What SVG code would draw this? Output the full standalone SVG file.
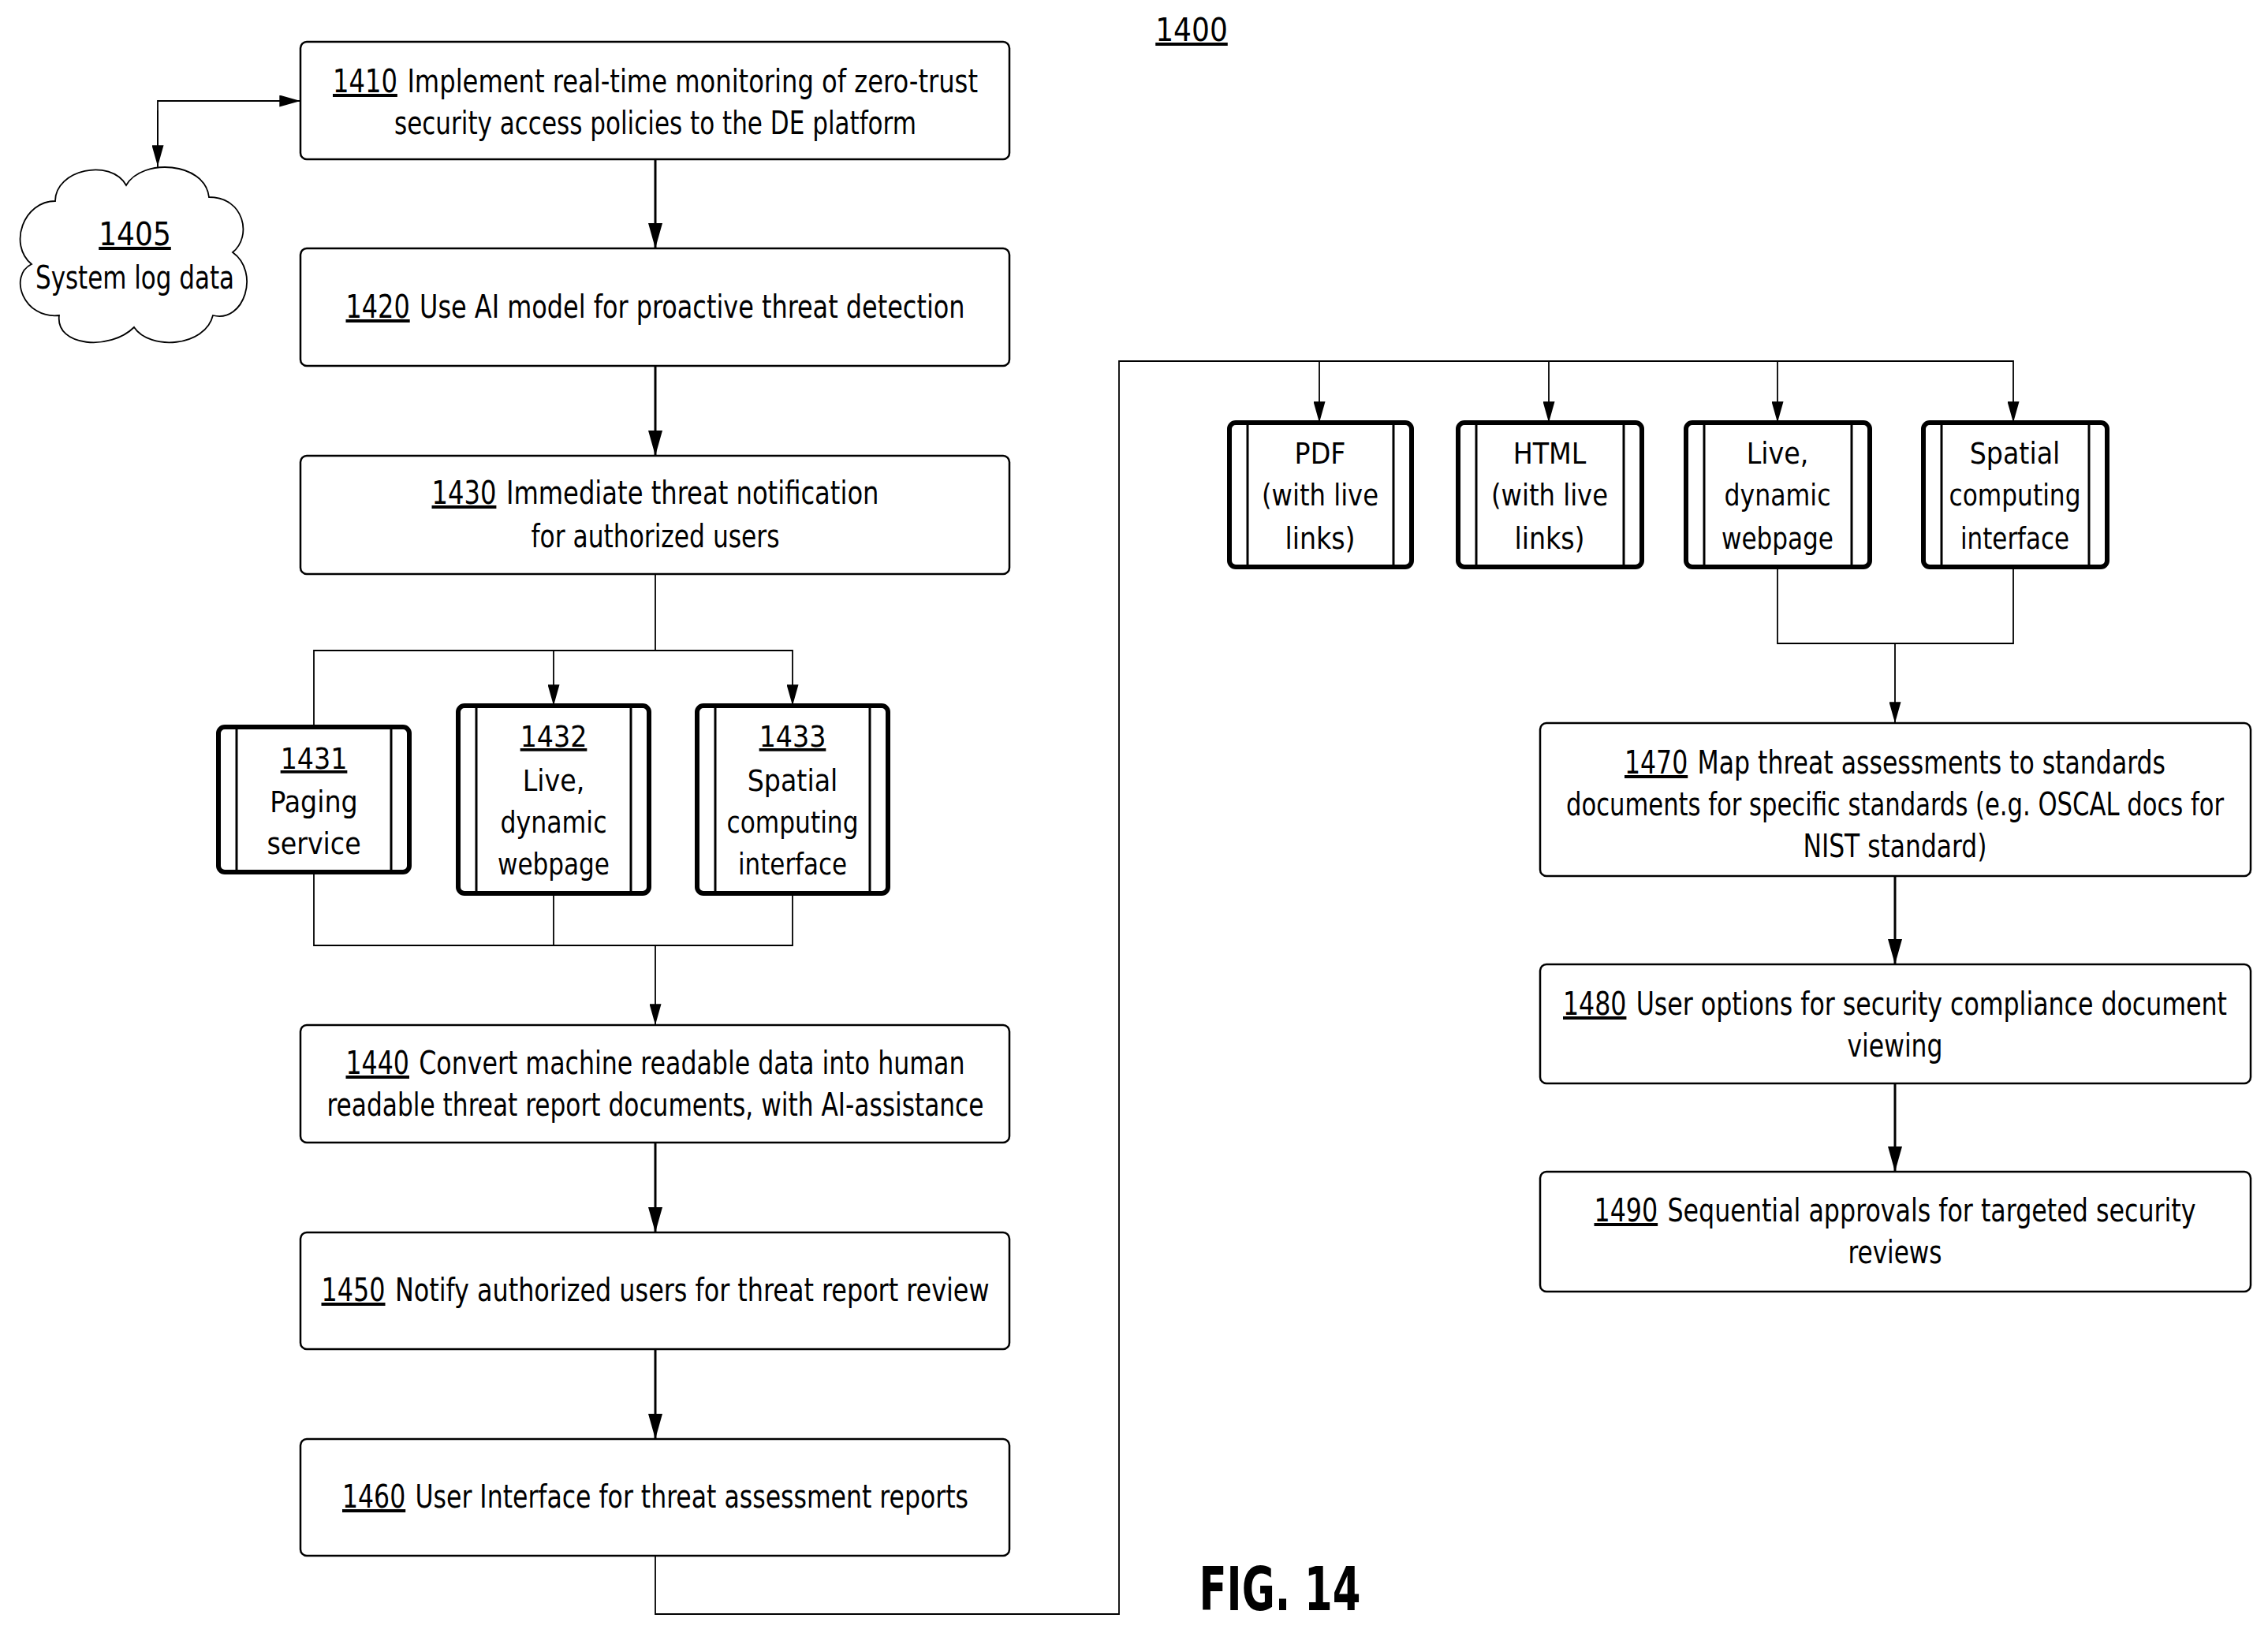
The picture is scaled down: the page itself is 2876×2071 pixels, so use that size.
<svg xmlns="http://www.w3.org/2000/svg" width="2876" height="2071" viewBox="0 0 2876 2071">
<style>
text{font-family:"DejaVu Sans Condensed","DejaVu Sans",sans-serif;font-stretch:condensed;font-size:40px;fill:#000;text-anchor:middle}
.s{font-size:37px}
.u{text-decoration:underline}
.box{fill:#fff;stroke:#000;stroke-width:2.5}
.sb{fill:#fff;stroke:#000;stroke-width:6}
.in{stroke:#000;stroke-width:3}
.c{fill:none;stroke:#000;stroke-width:3}
.t{fill:none;stroke:#000;stroke-width:1.8}
</style>
<defs>
<marker id="a" viewBox="0 0 32 18" refX="32" refY="9" markerWidth="32" markerHeight="18" markerUnits="userSpaceOnUse" orient="auto"><path d="M0,0 L32,9 L0,18 Z" fill="#000"/></marker>
<marker id="a2" viewBox="0 0 32 18" refX="32" refY="9" markerWidth="28" markerHeight="15" markerUnits="userSpaceOnUse" orient="auto"><path d="M0,0 L32,9 L0,18 Z" fill="#000"/></marker>
</defs>
<text x="1511" y="52" class="u">1400</text>
<text x="1623" y="2042" style="font-family:'Liberation Sans Narrow','DejaVu Sans Condensed',sans-serif;font-weight:bold;font-size:76px" textLength="205" lengthAdjust="spacingAndGlyphs">FIG. 14</text>
<g id="connectors">
<path class="t" d="M200,280 L200,128 L381,128" marker-end="url(#a2)"/>
<path class="t" d="M200,140 L200,211" marker-end="url(#a2)"/>
<path class="c" d="M831,202 L831,315" marker-end="url(#a)"/>
<path class="c" d="M831,464 L831,578" marker-end="url(#a)"/>
<path class="t" d="M831,728 L831,825"/>
<path class="t" d="M398,922 L398,825 L1005,825 L1005,895" marker-end="url(#a2)"/>
<path class="t" d="M702,825 L702,895" marker-end="url(#a2)"/>
<path class="t" d="M398,1106 L398,1199 L1005,1199 L1005,1133"/>
<path class="t" d="M702,1133 L702,1199"/>
<path class="t" d="M831,1199 L831,1300" marker-end="url(#a2)"/>
<path class="c" d="M831,1449 L831,1563" marker-end="url(#a)"/>
<path class="c" d="M831,1711 L831,1825" marker-end="url(#a)"/>
<path class="t" d="M831,1973 L831,2047 L1419,2047 L1419,458 L2553,458 L2553,536" marker-end="url(#a2)"/>
<path class="t" d="M1673,458 L1673,536" marker-end="url(#a2)"/>
<path class="t" d="M1964,458 L1964,536" marker-end="url(#a2)"/>
<path class="t" d="M2254,458 L2254,536" marker-end="url(#a2)"/>
<path class="t" d="M2254,719 L2254,816 L2553,816 L2553,719"/>
<path class="t" d="M2403,816 L2403,917" marker-end="url(#a2)"/>
<path class="c" d="M2403,1111 L2403,1223" marker-end="url(#a)"/>
<path class="c" d="M2403,1374 L2403,1486" marker-end="url(#a)"/>
</g>
<g id="n1405">
<path d="M70,255 C70,215 140,200 160,235 C180,200 260,205 265,250 C310,250 320,300 295,320 C330,345 310,410 270,400 C260,440 190,445 170,415 C140,445 70,440 75,400 C30,405 10,350 40,335 C10,310 30,255 70,255 Z" fill="#fff" stroke="#000" stroke-width="1.8"/>
<text x="171" y="311"><tspan class="u">1405</tspan></text>
<text x="171" y="366" textLength="252" lengthAdjust="spacingAndGlyphs">System log data</text>
</g>
<g id="n1410"><rect class="box" x="381" y="53" width="899" height="149" rx="8"/>
<text x="831" y="117" textLength="818" lengthAdjust="spacingAndGlyphs"><tspan class="u">1410</tspan><tspan dx="14">Implement real-time monitoring of zero-trust</tspan></text>
<text x="831" y="170" textLength="662" lengthAdjust="spacingAndGlyphs">security access policies to the DE platform</text></g>
<g id="n1420"><rect class="box" x="381" y="315" width="899" height="149" rx="8"/>
<text x="831" y="403" textLength="785" lengthAdjust="spacingAndGlyphs"><tspan class="u">1420</tspan><tspan dx="14">Use AI model for proactive threat detection</tspan></text></g>
<g id="n1430"><rect class="box" x="381" y="578" width="899" height="150" rx="8"/>
<text x="831" y="639" textLength="567" lengthAdjust="spacingAndGlyphs"><tspan class="u">1430</tspan><tspan dx="14">Immediate threat notification</tspan></text>
<text x="831" y="694" textLength="315" lengthAdjust="spacingAndGlyphs">for authorized users</text></g>
<g id="n1431"><rect class="sb" x="277" y="922" width="242" height="184" rx="8"/>
<line class="in" x1="300" y1="922" x2="300" y2="1106"/><line class="in" x1="496" y1="922" x2="496" y2="1106"/>
<text class="s" x="398" y="975"><tspan class="u">1431</tspan></text><text class="s" x="398" y="1030">Paging</text><text class="s" x="398" y="1083">service</text></g>
<g id="n1432"><rect class="sb" x="581" y="895" width="242" height="238" rx="8"/>
<line class="in" x1="604" y1="895" x2="604" y2="1133"/><line class="in" x1="800" y1="895" x2="800" y2="1133"/>
<text class="s" x="702" y="947"><tspan class="u">1432</tspan></text><text class="s" x="702" y="1003">Live,</text><text class="s" x="702" y="1056" textLength="135" lengthAdjust="spacingAndGlyphs">dynamic</text><text class="s" x="702" y="1109" textLength="142" lengthAdjust="spacingAndGlyphs">webpage</text></g>
<g id="n1433"><rect class="sb" x="884" y="895" width="242" height="238" rx="8"/>
<line class="in" x1="907" y1="895" x2="907" y2="1133"/><line class="in" x1="1103" y1="895" x2="1103" y2="1133"/>
<text class="s" x="1005" y="947"><tspan class="u">1433</tspan></text><text class="s" x="1005" y="1003">Spatial</text><text class="s" x="1005" y="1056" textLength="167" lengthAdjust="spacingAndGlyphs">computing</text><text class="s" x="1005" y="1109" textLength="138" lengthAdjust="spacingAndGlyphs">interface</text></g>
<g id="n1440"><rect class="box" x="381" y="1300" width="899" height="149" rx="8"/>
<text x="831" y="1362" textLength="785" lengthAdjust="spacingAndGlyphs"><tspan class="u">1440</tspan><tspan dx="14">Convert machine readable data into human</tspan></text>
<text x="831" y="1415" textLength="833" lengthAdjust="spacingAndGlyphs">readable threat report documents, with AI-assistance</text></g>
<g id="n1450"><rect class="box" x="381" y="1563" width="899" height="148" rx="8"/>
<text x="831" y="1650" textLength="847" lengthAdjust="spacingAndGlyphs"><tspan class="u">1450</tspan><tspan dx="14">Notify authorized users for threat report review</tspan></text></g>
<g id="n1460"><rect class="box" x="381" y="1825" width="899" height="148" rx="8"/>
<text x="831" y="1912" textLength="794" lengthAdjust="spacingAndGlyphs"><tspan class="u">1460</tspan><tspan dx="14">User Interface for threat assessment reports</tspan></text></g>
<g id="nPDF"><rect class="sb" x="1559" y="536" width="231" height="183" rx="8"/>
<line class="in" x1="1582" y1="536" x2="1582" y2="719"/><line class="in" x1="1767" y1="536" x2="1767" y2="719"/>
<text class="s" x="1674" y="588">PDF</text><text class="s" x="1674" y="641" textLength="148" lengthAdjust="spacingAndGlyphs">(with live</text><text class="s" x="1674" y="696">links)</text></g>
<g id="nHTML"><rect class="sb" x="1849" y="536" width="233" height="183" rx="8"/>
<line class="in" x1="1872" y1="536" x2="1872" y2="719"/><line class="in" x1="2059" y1="536" x2="2059" y2="719"/>
<text class="s" x="1965" y="588">HTML</text><text class="s" x="1965" y="641" textLength="148" lengthAdjust="spacingAndGlyphs">(with live</text><text class="s" x="1965" y="696">links)</text></g>
<g id="nLive"><rect class="sb" x="2138" y="536" width="233" height="183" rx="8"/>
<line class="in" x1="2161" y1="536" x2="2161" y2="719"/><line class="in" x1="2348" y1="536" x2="2348" y2="719"/>
<text class="s" x="2254" y="588">Live,</text><text class="s" x="2254" y="641" textLength="135" lengthAdjust="spacingAndGlyphs">dynamic</text><text class="s" x="2254" y="696" textLength="142" lengthAdjust="spacingAndGlyphs">webpage</text></g>
<g id="nSpatial"><rect class="sb" x="2439" y="536" width="233" height="183" rx="8"/>
<line class="in" x1="2462" y1="536" x2="2462" y2="719"/><line class="in" x1="2649" y1="536" x2="2649" y2="719"/>
<text class="s" x="2555" y="588">Spatial</text><text class="s" x="2555" y="641" textLength="167" lengthAdjust="spacingAndGlyphs">computing</text><text class="s" x="2555" y="696" textLength="138" lengthAdjust="spacingAndGlyphs">interface</text></g>
<g id="n1470"><rect class="box" x="1953" y="917" width="901" height="194" rx="8"/>
<text x="2403" y="981" textLength="686" lengthAdjust="spacingAndGlyphs"><tspan class="u">1470</tspan><tspan dx="14">Map threat assessments to standards</tspan></text>
<text x="2403" y="1034" textLength="834" lengthAdjust="spacingAndGlyphs">documents for specific standards (e.g. OSCAL docs for</text>
<text x="2403" y="1087" textLength="233" lengthAdjust="spacingAndGlyphs">NIST standard)</text></g>
<g id="n1480"><rect class="box" x="1953" y="1223" width="901" height="151" rx="8"/>
<text x="2403" y="1287" textLength="842" lengthAdjust="spacingAndGlyphs"><tspan class="u">1480</tspan><tspan dx="14">User options for security compliance document</tspan></text>
<text x="2403" y="1340" textLength="121" lengthAdjust="spacingAndGlyphs">viewing</text></g>
<g id="n1490"><rect class="box" x="1953" y="1486" width="901" height="152" rx="8"/>
<text x="2403" y="1549" textLength="763" lengthAdjust="spacingAndGlyphs"><tspan class="u">1490</tspan><tspan dx="14">Sequential approvals for targeted security</tspan></text>
<text x="2403" y="1602" textLength="119" lengthAdjust="spacingAndGlyphs">reviews</text></g>
</svg>
